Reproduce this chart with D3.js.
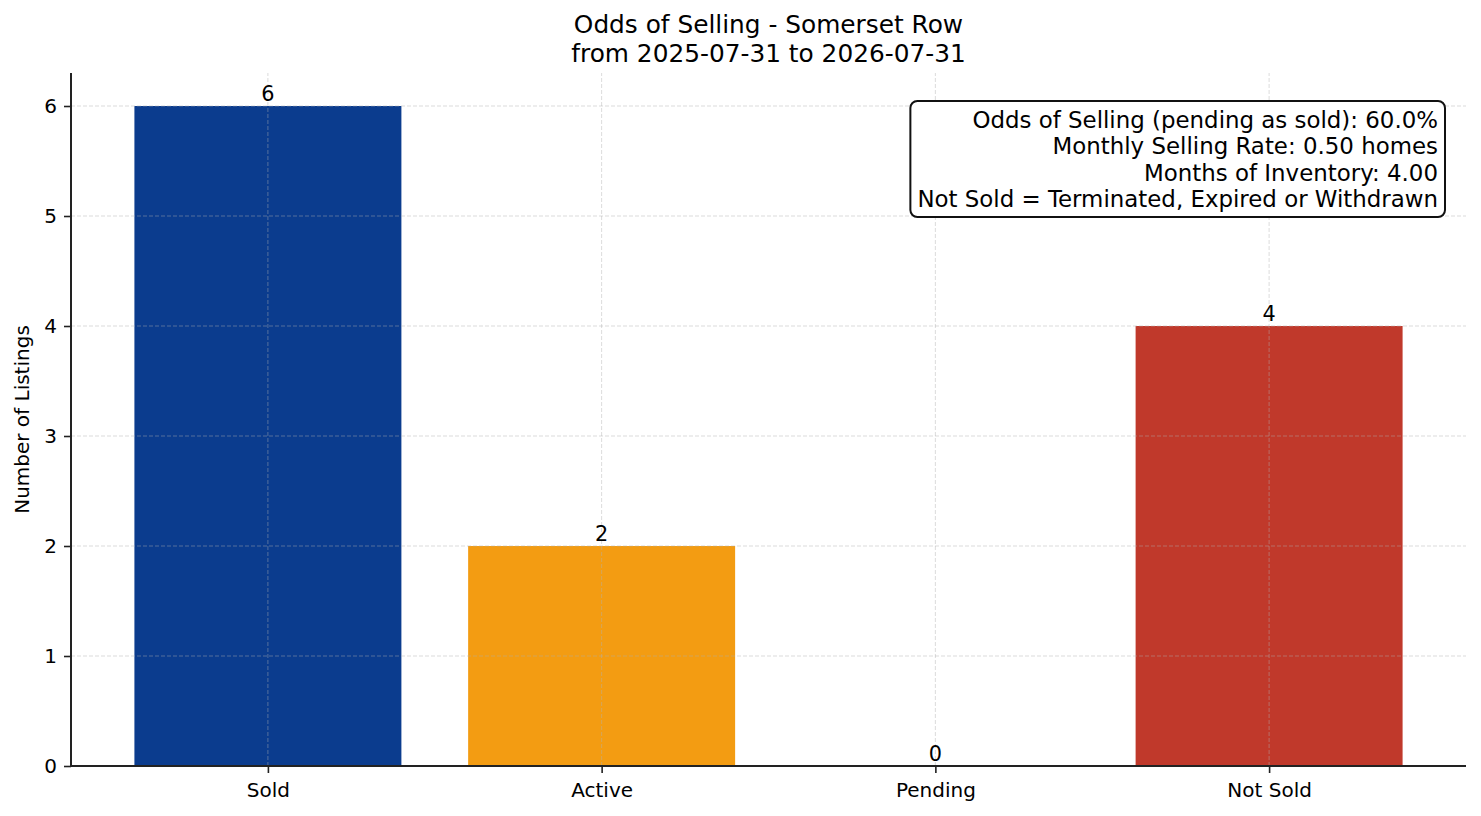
<!DOCTYPE html>
<html>
<head>
<meta charset="utf-8">
<script src="https://cdn.jsdelivr.net/npm/d3@7"></script>
<style>
  body { margin: 0; background: #fff; }
  svg text { font-family: "DejaVu Sans", sans-serif; fill: #000; }
</style>
</head>
<body>
<div id="chart"></div>
<script>
// chart data
var categories = ['Sold', 'Active', 'Pending', 'Not Sold'];
var counts = [6, 2, 0, 4];
var barColors = ['#0b3c8e', '#f39c12', '#7f8c8d', '#c0392b'];
var yTicks = [0, 1, 2, 3, 4, 5, 6];
var titleLines = ['Odds of Selling - Somerset Row', 'from 2025-07-31 to 2026-07-31'];
var infoLines = [
  'Odds of Selling (pending as sold): 60.0%',
  'Monthly Selling Rate: 0.50 homes',
  'Months of Inventory: 4.00',
  'Not Sold = Terminated, Expired or Withdrawn'
];

var W = 1481, H = 816;
var margin = { left: 71, right: 15, top: 73, bottom: 50 };

var svg = d3.select('#chart').append('svg')
  .attr('width', W).attr('height', H);

// x is linear over category index like matplotlib, bars 0.8 wide
var x = d3.scaleLinear()
  .domain([-0.59, 3.59])
  .range([margin.left, W - margin.right]);
var y = d3.scaleLinear()
  .domain([0, 6.3])
  .range([H - margin.bottom, margin.top]);
var barW = x(0.4) - x(-0.4);

// bars
svg.append('g').selectAll('rect')
  .data(counts)
  .enter().append('rect')
  .attr('x', function (d, i) { return x(i) - barW / 2; })
  .attr('y', function (d) { return y(d); })
  .attr('width', barW)
  .attr('height', function (d) { return y(0) - y(d); })
  .attr('fill', function (d, i) { return barColors[i]; });

// grid drawn over the bars
var grid = svg.append('g').attr('class', 'grid');
grid.selectAll('line.h')
  .data(yTicks)
  .enter().append('line')
  .attr('x1', x.range()[0]).attr('x2', x.range()[1])
  .attr('y1', function (d) { return y(d); })
  .attr('y2', function (d) { return y(d); })
  .attr('stroke', '#b0b0b0').attr('stroke-opacity', 0.45)
  .attr('stroke-width', 1).attr('stroke-dasharray', '4,2');
grid.selectAll('line.v')
  .data(categories)
  .enter().append('line')
  .attr('x1', function (d, i) { return x(i); })
  .attr('x2', function (d, i) { return x(i); })
  .attr('y1', y.range()[0]).attr('y2', y.range()[1])
  .attr('stroke', '#b0b0b0').attr('stroke-opacity', 0.45)
  .attr('stroke-width', 1).attr('stroke-dasharray', '4,2');

// value labels
svg.append('g').selectAll('text')
  .data(counts)
  .enter().append('text')
  .attr('x', function (d, i) { return x(i); })
  .attr('y', function (d) { return y(d) - 5; })
  .attr('text-anchor', 'middle')
  .attr('font-size', '20.8px')
  .text(function (d) { return d; });

// axes
var yAxis = d3.axisLeft(y).tickValues(yTicks).tickFormat(d3.format('d'))
  .tickSize(7).tickPadding(7);
var gy = svg.append('g')
  .attr('transform', 'translate(' + margin.left + ',0)')
  .call(yAxis);
var xAxis = d3.axisBottom(x)
  .tickValues(d3.range(categories.length))
  .tickFormat(function (i) { return categories[i]; })
  .tickSize(7).tickPadding(10);
var gx = svg.append('g')
  .attr('transform', 'translate(0,' + (H - margin.bottom) + ')')
  .call(xAxis);
[gx, gy].forEach(function (g) {
  g.attr('font-family', null).attr('font-size', null);
  g.selectAll('.domain').attr('stroke', '#222').attr('stroke-width', 2);
  g.selectAll('.tick line').attr('stroke', '#222').attr('stroke-width', 1.6);
  g.selectAll('.tick text').attr('font-size', '20px').attr('fill', '#000');
});
gy.select('.domain').attr('d', 'M0,' + y.range()[0] + 'V' + y.range()[1]);
gx.select('.domain').attr('d', 'M' + x.range()[0] + ',0H' + x.range()[1]);

// y label
svg.append('text')
  .attr('transform', 'translate(29,' + ((y.range()[0] + y.range()[1]) / 2) + ') rotate(-90)')
  .attr('text-anchor', 'middle')
  .attr('font-size', '20px')
  .text('Number of Listings');

// title
svg.append('g').selectAll('text')
  .data(titleLines)
  .enter().append('text')
  .attr('x', (x.range()[0] + x.range()[1]) / 2)
  .attr('y', function (d, i) { return 33 + i * 28.5; })
  .attr('text-anchor', 'middle')
  .attr('font-size', '24.8px')
  .text(function (d) { return d; });

// info box
var box = svg.append('g');
var boxRight = 1445, boxTop = 101, lineH = 26.3;
var info = box.selectAll('text')
  .data(infoLines)
  .enter().append('text')
  .attr('x', boxRight - 7)
  .attr('y', function (d, i) { return boxTop + 27 + i * lineH; })
  .attr('text-anchor', 'end')
  .attr('font-size', '22.9px')
  .text(function (d) { return d; });
var maxW = 0;
info.each(function () { maxW = Math.max(maxW, this.getComputedTextLength()); });
box.insert('rect', 'text')
  .attr('x', boxRight - 7 - maxW - 7)
  .attr('y', boxTop)
  .attr('width', maxW + 14)
  .attr('height', 116)
  .attr('rx', 7).attr('ry', 7)
  .attr('fill', '#fff').attr('stroke', '#111').attr('stroke-width', 2);
</script>
</body>
</html>
